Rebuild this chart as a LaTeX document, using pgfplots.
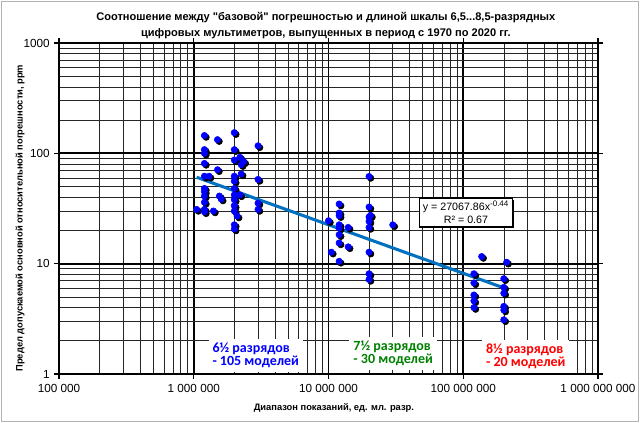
\documentclass[border=0pt]{standalone}
\usepackage{pgfplots}
\pgfplotsset{compat=1.18}
\usepackage{pgfplotstable}
\usepackage{fontspec}
\usetikzlibrary{shadows}
\setmainfont{Liberation Sans}
\newfontfamily\calibri{Carlito}
\definecolor{trend}{RGB}{0,112,192}
\definecolor{mk}{RGB}{0,0,255}
\definecolor{dgreen}{RGB}{0,128,0}
\definecolor{dred}{RGB}{255,0,0}

\pgfplotstableread{
x y
1.2e6 145
1.5e6 133
2e6 154
3e6 117
1.2e6 108
1.2e6 100
2e6 108
2.2e6 92
2e6 87
2.35e6 84
2.25e6 79
1.2e6 81
1.5e6 71
1.2e6 62
1.3e6 62
2e6 62
2.25e6 65
3e6 58
2e6 56
1.2e6 48
1.2e6 45
2e6 48
1.2e6 41
1.55e6 41
1.6e6 38.5
2e6 42
2.2e6 42
1.2e6 36
2e6 38
3e6 35.4
3e6 31
1.05e6 31
1.2e6 31
1.2e6 29.5
1.4e6 30
2e6 33.5
2e6 30
2.1e6 27
2e6 22.5
2e6 20.6
}\dataA

\pgfplotstableread{
x y
2e7 61.7
1.2e7 34.7
1.2e7 28.8
1.2e7 27.2
2e7 32.6
2.05e7 27.4
2e7 26.5
2e7 24.2
1e7 24.5
1.2e7 22.5
1.2e7 21
1.4e7 21.3
2e7 21.3
3e7 22.5
1.2e7 18.3
1.2e7 15.4
1.4e7 14.2
1.05e7 12.7
2e7 12.7
1.2e7 10.5
2e7 8.1
2e7 7.2
}\dataB

\pgfplotstableread{
x y
1.37e8 11.6
2.1e8 10.3
1.2e8 8.1
2e8 7.3
1.2e8 6.7
2e8 6.1
2e8 5.4
1.2e8 5.2
1.2e8 4.6
1.2e8 4.0
2e8 4.1
2e8 3.8
2e8 3.1
}\dataC

\begin{document}
\begin{tikzpicture}
\path[use as bounding box] (-44.25pt,-36.75pt) rectangle (435.75pt,280.5pt);
\draw[gray!60, line width=0.75pt] (-43pt,-35.5pt) rectangle (434.5pt,279.25pt);
\begin{axis}[
  scale only axis, width=404.25pt, height=248.25pt,
  at={(0,0)}, anchor=south west,
  xmode=log, ymode=log,
  xmin=1e5, xmax=1e9, ymin=1, ymax=1000,
  xtick={1e5,1e6,1e7,1e8,1e9},
  xticklabels={{100 000},{1 000 000},{10 000 000},{100 000 000},{1 000 000 000}},
  ytick={1,10,100,1000},
  yticklabels={1,10,100,1000},
  minor xtick={2e5,3e5,4e5,5e5,6e5,7e5,8e5,9e5,2e6,3e6,4e6,5e6,6e6,7e6,8e6,9e6,2e7,3e7,4e7,5e7,6e7,7e7,8e7,9e7,2e8,3e8,4e8,5e8,6e8,7e8,8e8,9e8},
  minor ytick={2,3,4,5,6,7,8,9,20,30,40,50,60,70,80,90,200,300,400,500,600,700,800,900},
  grid=both,
  major grid style={black, line width=1.3pt},
  minor grid style={black!85, line width=0.45pt},
  axis line style={black, line width=1.3pt},
  tick align=outside,
  major tick length=3.5pt,
  minor tick length=0pt,
  tick style={black, line width=1pt},
  ticklabel style={font=\fontsize{8.8}{10.5}\selectfont},
  xticklabel style={yshift=-0.5pt},
  xlabel={Диапазон показаний, ед. мл. разр.},
  ylabel={Предел допускаемой основной относительной погрешности, ppm},
  xlabel style={font=\bfseries\fontsize{7}{8.4}\selectfont, at={(axis description cs:0.51,-0.103)}, anchor=center},
  ylabel style={font=\bfseries\fontsize{7}{8.4}\selectfont, at={(axis description cs:-0.072,0.471)}, anchor=center, rotate=0},
  title={Соотношение между \textquotedbl базовой\textquotedbl\ погрешностью и длиной шкалы 6,5...8,5-разрядных\\цифровых мультиметров, выпущенных в период с 1970 по 2020 гг.},
  title style={font=\bfseries\fontsize{8.3}{12}\selectfont, align=center, at={(axis description cs:0.495,1.028)}, anchor=center},
  clip=true,
]
\addplot[only marks, mark=*, mark size=2.4pt, mark options={fill=black, draw=black, xshift=1.3pt, yshift=-1.3pt}] table[x=x,y=y] {\dataA};
\addplot[only marks, mark=*, mark size=2.4pt, mark options={fill=black, draw=black, xshift=1.3pt, yshift=-1.3pt}] table[x=x,y=y] {\dataB};
\addplot[only marks, mark=*, mark size=2.4pt, mark options={fill=black, draw=black, xshift=1.3pt, yshift=-1.3pt}] table[x=x,y=y] {\dataC};
\addplot[only marks, mark=*, mark size=2.4pt, mark options={fill=mk, draw=mk}] table[x=x,y=y] {\dataA};
\addplot[only marks, mark=*, mark size=2.4pt, mark options={fill=mk, draw=mk}] table[x=x,y=y] {\dataB};
\addplot[only marks, mark=*, mark size=2.4pt, mark options={fill=mk, draw=mk}] table[x=x,y=y] {\dataC};
\addplot[trend, line width=2.3pt, no marks] coordinates {(1.05e6,60.7) (2e8,6.03)};

\node[fill=white, draw=black, line width=1pt, align=center, inner sep=2.5pt,
      font=\fontsize{8}{9.5}\selectfont,
      drop shadow={shadow xshift=1.2pt, shadow yshift=-1.2pt, fill=black, opacity=1}]
  at (rel axis cs:0.755,0.488) {y = 27067.86x\textsuperscript{-0.44}\\R² = 0.67};

\node[fill=white, align=left, inner sep=3pt, text=mk, font=\calibri\bfseries\fontsize{10.5}{9.5}\selectfont]
  at (rel axis cs:0.365,0.056) {6½ разрядов\\- 105 моделей};
\node[fill=white, align=left, inner sep=3pt, text=dgreen, font=\calibri\bfseries\fontsize{10.5}{9.5}\selectfont]
  at (rel axis cs:0.62,0.062) {7½ разрядов\\- 30 моделей};
\node[fill=white, align=left, inner sep=3pt, text=dred, font=\calibri\bfseries\fontsize{10.5}{9.5}\selectfont]
  at (rel axis cs:0.866,0.053) {8½ разрядов\\- 20 моделей};
\end{axis}
\end{tikzpicture}
\end{document}
